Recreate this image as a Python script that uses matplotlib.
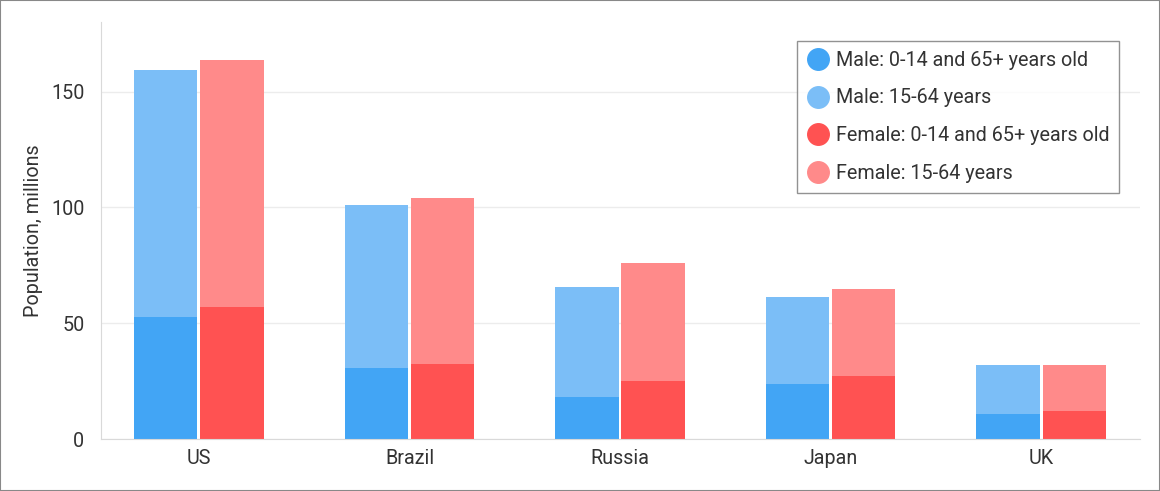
import matplotlib.pyplot as plt
from matplotlib.lines import Line2D
import numpy as np

plt.rcParams['font.family'] = ['Roboto', 'DejaVu Sans']

countries = ['US', 'Brazil', 'Russia', 'Japan', 'UK']
male_young_old = [52.7, 30.7, 18.1, 23.8, 10.8]
male_working = [106.8, 70.4, 47.6, 37.6, 21.2]
female_young_old = [57.0, 32.4, 25.1, 27.2, 12.1]
female_working = [106.8, 71.7, 51.0, 37.6, 19.9]

labels = ['Male: 0-14 and 65+ years old', 'Male: 15-64 years',
          'Female: 0-14 and 65+ years old', 'Female: 15-64 years']
colors = ['#42a5f5', '#7bbef7', '#ff5252', '#ff8a8a']

fig = plt.figure(figsize=(11.6, 4.91), dpi=100)
ax = fig.add_axes([0.0871, 0.1059, 0.8957, 0.8491])

x = np.arange(len(countries))
w = 0.3
off = 0.157
ax.bar(x - off, male_young_old, w, color=colors[0], zorder=2)
ax.bar(x - off, male_working, w, bottom=male_young_old, color=colors[1], zorder=2)
ax.bar(x + off, female_young_old, w, color=colors[2], zorder=2)
ax.bar(x + off, female_working, w, bottom=female_young_old, color=colors[3], zorder=2)

fs = 14.2
ax.set_xlim(-0.465, 4.47)
ax.set_ylim(0, 180)
ax.set_yticks([0, 50, 100, 150])
ax.set_xticks(x)
ax.set_xticklabels(countries)
ax.tick_params(length=0, labelsize=fs, colors='#333333', pad=7)
ax.tick_params(axis='y', pad=12)
ax.yaxis.grid(True, color='#ececec', linewidth=1, zorder=0)
for s in ['top', 'right']:
    ax.spines[s].set_visible(False)
for s in ['left', 'bottom']:
    ax.spines[s].set_color('#d9d9d9')
ax.set_ylabel('Population, millions', fontsize=fs, color='#333333', labelpad=6)

handles = [Line2D([], [], marker='o', linestyle='none', markersize=15.5,
                  markerfacecolor=c, markeredgecolor=c) for c in colors]
leg = ax.legend(handles, labels, loc='upper right', bbox_to_anchor=(0.98, 0.955),
                fontsize=fs, frameon=True, fancybox=False, labelspacing=0.95,
                handletextpad=0.35, handlelength=1.1, borderpad=0.5,
                borderaxespad=0)
leg.get_frame().set_edgecolor('#777777')
leg.get_frame().set_linewidth(1)
for t in leg.get_texts():
    t.set_color('#333333')

fig.patches.append(plt.Rectangle((0, 0), 1, 1, transform=fig.transFigure,
                                 fill=False, edgecolor='#888888', linewidth=1.5))

fig.savefig('out.png', dpi=100)
